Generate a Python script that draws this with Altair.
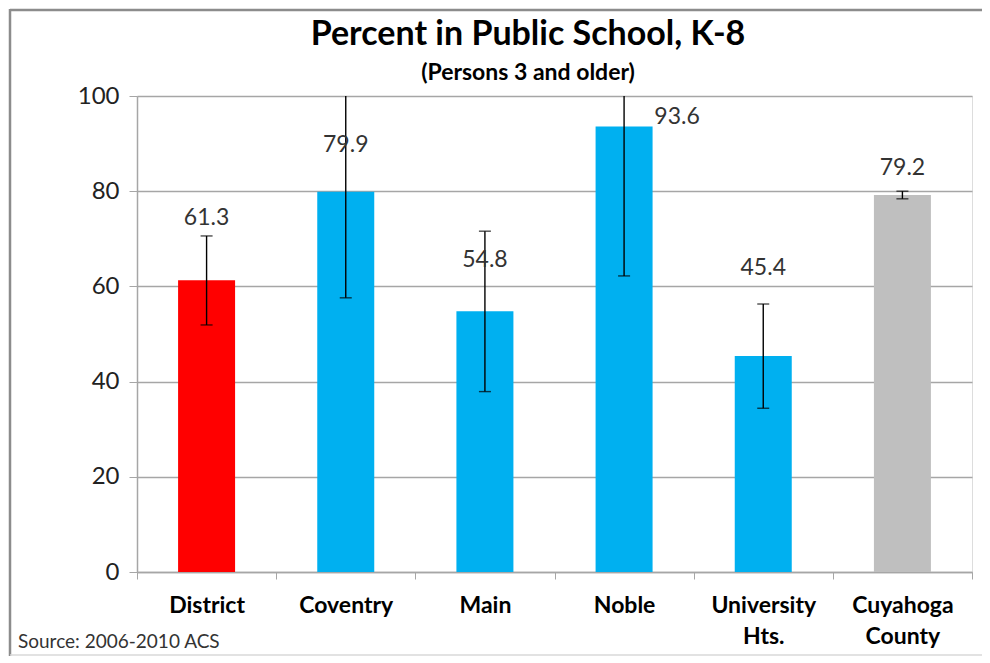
import altair as alt
import pandas as pd

categories = ["District", "Coventry", "Main", "Noble", "University Hts.", "Cuyahoga County"]
values = [61.3, 79.9, 54.8, 93.6, 45.4, 79.2]
err_low = [51.9, 57.6, 37.9, 62.2, 34.4, 78.4]
err_high = [70.6, 102.2, 71.6, 125.0, 56.3, 80.0]
label_y = [74.4, 89.7, 65.5, 95.6, 63.9, 84.9]
label_text = ["61.3", "79.9", "54.8", "93.6", "45.4", "79.2"]
colors = ["#FF0000", "#00B0F0", "#00B0F0", "#00B0F0", "#00B0F0", "#BFBFBF"]
y_ticks = [0, 20, 40, 60, 80, 100]
title_text = "Percent in Public School, K-8"
subtitle_text = "(Persons 3 and older)"
source_text = "Source: 2006-2010 ACS"

df = pd.DataFrame({
    "cat": categories, "value": values, "lo": err_low, "hi": err_high,
    "ly": label_y, "lt": label_text,
})

FONT = "Lato"
GRID = "#A6A6A6"

x_enc = alt.X("cat:N", sort=categories, title=None,
              scale=alt.Scale(paddingInner=0, paddingOuter=0),
              axis=alt.Axis(labelAngle=0, labelFont=FONT, labelFontSize=23,
                            labelFontWeight="bold", labelColor="#000000",
                            labelExpr="datum.value ? split(datum.value, ' ') : ''",
                            labelLineHeight=31, labelPadding=15,
                            tickBand="extent", tickSize=7, tickColor=GRID,
                            domainColor=GRID, domainWidth=1.5))
y_scale = alt.Scale(domain=[0, 100], nice=False)
y_axis = alt.Axis(values=y_ticks, labelFont=FONT, labelFontSize=24,
                  labelColor="#222222", labelPadding=10, tickSize=8,
                  tickColor=GRID, domainColor=GRID, domainWidth=1.5,
                  gridColor=GRID, gridWidth=1.3, title=None)

base = alt.Chart(df)

bars = base.mark_bar(width=57).encode(
    x=x_enc,
    y=alt.Y("value:Q", scale=y_scale, axis=y_axis),
    color=alt.Color("cat:N", scale=alt.Scale(domain=categories, range=colors), legend=None),
)

rules = base.mark_rule(color="#000000", strokeWidth=1.4, clip=True).encode(
    x=alt.X("cat:N", sort=categories), y=alt.Y("lo:Q", scale=y_scale), y2="hi:Q")

caps_lo = base.mark_tick(color="#000000", size=12, thickness=1.4, clip=True).encode(
    x=alt.X("cat:N", sort=categories), y=alt.Y("lo:Q", scale=y_scale))
caps_hi = base.mark_tick(color="#000000", size=12, thickness=1.4, clip=True).encode(
    x=alt.X("cat:N", sort=categories), y=alt.Y("hi:Q", scale=y_scale))

labels = base.transform_filter(alt.datum.cat != "Noble").mark_text(
    font=FONT, fontSize=23, color="#333333").encode(
    x=alt.X("cat:N", sort=categories), y=alt.Y("ly:Q", scale=y_scale), text="lt:N")
label_noble = base.transform_filter(alt.datum.cat == "Noble").mark_text(
    font=FONT, fontSize=23, color="#333333", dx=53).encode(
    x=alt.X("cat:N", sort=categories), y=alt.Y("ly:Q", scale=y_scale), text="lt:N")

one = alt.Chart(pd.DataFrame({"k": [0]}))
title_mark = one.mark_text(font=FONT, fontSize=34, fontWeight="bold", color="#000000",
                           align="center", baseline="middle").encode(
    x=alt.value(391), y=alt.value(-61), text=alt.value(title_text))
subtitle_mark = one.mark_text(font=FONT, fontSize=23, fontWeight="bold", color="#000000",
                              align="center", baseline="middle").encode(
    x=alt.value(391), y=alt.value(-23), text=alt.value(subtitle_text))
source = one.mark_text(font=FONT, fontSize=19, color="#333333", align="left",
                       baseline="middle").encode(
    x=alt.value(-119), y=alt.value(546), text=alt.value(source_text))
border_left = one.mark_rule(color="#8C8C8C", strokeWidth=2.5).encode(
    x=alt.value(-127), y=alt.value(-87), y2=alt.value(560))
border_top = one.mark_rule(color="#8C8C8C", strokeWidth=2.5).encode(
    x=alt.value(-127), x2=alt.value(850), y=alt.value(-86))
border_bottom = one.mark_rule(color="#D9D9D9", strokeWidth=1.5).encode(
    x=alt.value(-127), x2=alt.value(850), y=alt.value(559))

chart = alt.layer(
    bars, rules, caps_lo, caps_hi, labels, label_noble, title_mark, subtitle_mark,
    source, border_left, border_top, border_bottom,
).properties(
    width=835, height=476,
    autosize=alt.AutoSizeParams(type="none"),
    padding={"left": 129, "top": 88, "right": 10, "bottom": 85},
).configure_view(stroke=None).configure(background="#FFFFFF")

chart.save("out.html", embed_options={"renderer": "svg", "actions": False})
